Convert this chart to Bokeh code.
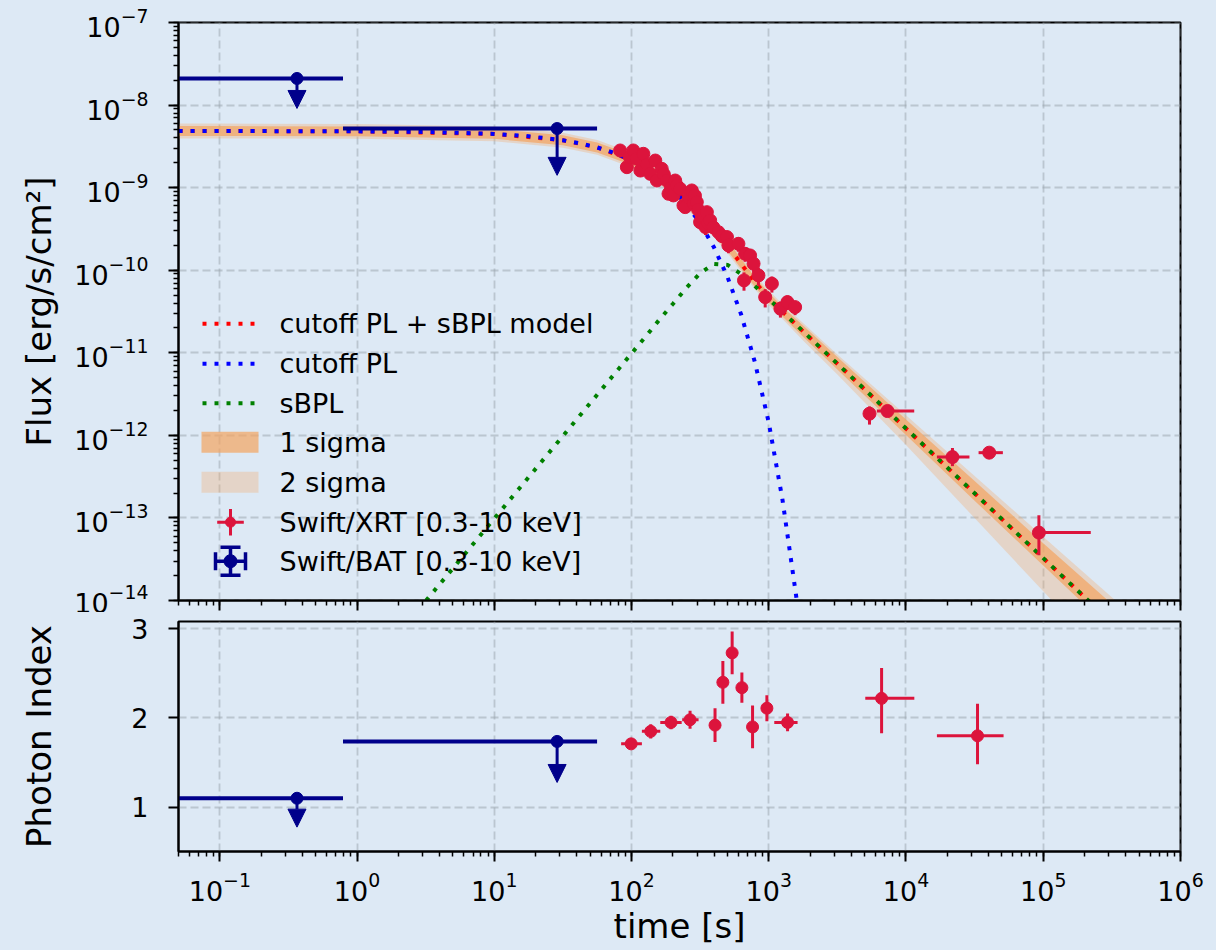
import numpy as np
from jinja2 import Template
from bokeh.plotting import figure
from bokeh.layouts import column
from bokeh.models import (Range1d, LinearScale, LogTicker, FixedTicker,
                          CustomJSTickFormatter, Label, Arrow, NormalHead,
                          ColumnDataSource)
from bokeh.embed import file_html
from bokeh.resources import INLINE
from bokeh.core.properties import value
from bokeh.core.templates import FILE

# ---------------- data ----------------
title_text = "GRB180618A"

# Swift/XRT flux, dense early part
xrt_early_t = [82.6, 92.5, 97.0, 103, 109, 116, 122, 130, 137, 149, 153, 166, 172, 181,
               186, 194, 202, 208, 214, 226, 239, 246, 262, 275, 283, 290, 299, 306,
               316, 325, 334, 346, 354, 362, 374, 395, 430, 455, 496, 508, 601, 660,
               673, 731, 775, 841, 942, 1054, 1216, 1368, 1556]
xrt_early_flux = [2.82e-9, 1.77e-9, 2.35e-9, 2.82e-9, 2.24e-9, 1.61e-9, 2.57e-9, 1.90e-9,
                  1.47e-9, 2.13e-9, 1.22e-9, 1.69e-9, 1.45e-9, 1.22e-9, 8.43e-10, 1.00e-9,
                  8.05e-10, 1.22e-9, 1.06e-9, 9.70e-10, 6.10e-10, 5.81e-10, 7.60e-10,
                  9.25e-10, 6.38e-10, 8.00e-10, 6.67e-10, 5.40e-10, 3.82e-10, 4.40e-10,
                  4.60e-10, 3.33e-10, 5.05e-10, 3.70e-10, 4.01e-10, 3.30e-10, 2.89e-10,
                  2.60e-10, 2.52e-10, 2.00e-10, 2.09e-10, 7.53e-11, 1.58e-10, 1.51e-10,
                  1.20e-10, 8.65e-11, 4.72e-11, 6.87e-11, 3.42e-11, 4.11e-11, 3.57e-11]
xrt_early_ferr = [0.10, 0.12, 0.10, 0.10, 0.10, 0.12, 0.10, 0.10, 0.12, 0.10, 0.12, 0.10,
                  0.12, 0.12, 0.14, 0.12, 0.14, 0.12, 0.12, 0.12, 0.15, 0.15, 0.14, 0.12,
                  0.15, 0.14, 0.15, 0.15, 0.18, 0.16, 0.16, 0.20, 0.16, 0.18, 0.18, 0.18,
                  0.18, 0.18, 0.18, 0.20, 0.20, 0.25, 0.20, 0.20, 0.22, 0.25, 0.25, 0.22,
                  0.22, 0.20, 0.20]
xrt_early_terr = 0.04

# Swift/XRT flux, late points (bins and asymmetric errors)
xrt_late_t = [5420, 7330, 21800, 40400, 93000]
xrt_late_tlo = [5150, 6140, 16800, 33800, 90000]
xrt_late_thi = [5700, 11480, 29000, 50800, 222000]
xrt_late_flux = [1.83e-12, 1.97e-12, 5.46e-13, 6.17e-13, 6.64e-14]
xrt_late_flo = [1.35e-12, 1.84e-12, 4.24e-13, 5.50e-13, 3.52e-14]
xrt_late_fhi = [2.24e-12, 2.11e-12, 7.03e-13, 6.92e-13, 1.08e-13]

# Swift/BAT upper limits
bat_t = [0.365, 28.7]
bat_tlo = [0.001, 0.79]
bat_thi = [0.79, 56.1]
bat_flux = [2.1e-8, 5.2e-9]
bat_flux_tip = [9.1e-9, 1.41e-9]
bat_pi = [1.10, 1.737]
bat_pi_tip = [0.776, 1.277]

# Photon index (XRT)
pi_t = [99.4, 138, 194, 267, 406, 463, 541, 637, 762, 969, 1371, 6640, 33200]
pi_tlo = [84, 119, 162, 234, 395, 452, 530, 622, 745, 945, 1097, 5050, 16800]
pi_thi = [119, 162, 232, 308, 418, 474, 552, 652, 780, 993, 1622, 11500, 51400]
pi_val = [1.71, 1.85, 1.95, 1.98, 1.92, 2.40, 2.73, 2.34, 1.90, 2.11, 1.95, 2.22, 1.80]
pi_err_lo = [0.03, 0.08, 0.075, 0.10, 0.19, 0.24, 0.24, 0.17, 0.24, 0.146, 0.10, 0.39, 0.32]
pi_err_hi = [0.03, 0.08, 0.075, 0.10, 0.19, 0.24, 0.24, 0.17, 0.24, 0.146, 0.10, 0.34, 0.36]

# model curves (log10 flux)
model_t = [0.01, 0.1, 1, 10, 31.6, 56.2, 100, 126, 158, 200, 251, 316, 398, 501, 631,
           794, 1000, 1259, 1778, 3162, 10000, 31623, 100000, 316228, 1000000]
model_total_log = [-8.314, -8.314, -8.318, -8.349, -8.426, -8.513, -8.665, -8.755, -8.866,
                   -9.002, -9.161, -9.335, -9.509, -9.703, -9.926, -10.144, -10.334,
                   -10.502, -10.740, -11.132, -11.917, -12.702, -13.487, -14.272, -15.057]
sig1_lo_dex = [0.06, 0.06, 0.06, 0.06, 0.06, 0.06, 0.06, 0.06, 0.06, 0.06, 0.06, 0.06, 0.06,
               0.06, 0.06, 0.06, 0.06, 0.06, 0.065, 0.07, 0.08, 0.09, 0.09, 0.09, 0.09]
sig1_hi_dex = [0.06, 0.06, 0.06, 0.06, 0.06, 0.06, 0.06, 0.06, 0.06, 0.06, 0.06, 0.06, 0.06,
               0.06, 0.06, 0.06, 0.06, 0.06, 0.07, 0.08, 0.11, 0.15, 0.18, 0.23, 0.28]
sig2_lo_dex = [0.09, 0.09, 0.09, 0.09, 0.09, 0.09, 0.09, 0.09, 0.09, 0.09, 0.09, 0.09, 0.09,
               0.09, 0.09, 0.09, 0.09, 0.09, 0.11, 0.13, 0.20, 0.30, 0.40, 0.50, 0.60]
sig2_hi_dex = [0.09, 0.09, 0.09, 0.09, 0.09, 0.09, 0.09, 0.09, 0.09, 0.09, 0.09, 0.09, 0.09,
               0.09, 0.09, 0.09, 0.09, 0.09, 0.10, 0.11, 0.16, 0.21, 0.26, 0.31, 0.36]

cpl_t = [0.01, 0.1, 1, 3.16, 10, 17.8, 31.6, 42.2, 56.2, 75.0, 100, 126, 158, 200, 251,
         316, 398, 501, 631, 794, 1000, 1259, 1585, 1778]
cpl_log = [-8.314, -8.314, -8.318, -8.325, -8.349, -8.377, -8.426, -8.463, -8.513, -8.579,
           -8.667, -8.759, -8.874, -9.019, -9.201, -9.431, -9.720, -10.084, -10.542,
           -11.119, -11.845, -12.78, -13.95, -14.6]

sbpl_t = [1, 3.16, 10, 31.6, 100, 126, 158, 200, 251, 316, 398, 501, 631, 794, 1000, 1778,
          3162, 10000, 31623, 100000, 316228, 1000000]
sbpl_log = [-15.008, -14.008, -13.008, -12.008, -11.008, -10.808, -10.608, -10.409, -10.214,
            -10.037, -9.924, -9.936, -10.047, -10.193, -10.348, -10.740, -11.132, -11.917,
            -12.702, -13.487, -14.272, -15.057]

legend_labels = ["cutoff PL + sBPL model", "cutoff PL", "sBPL", "1 sigma", "2 sigma",
                 "Swift/XRT [0.3-10 keV]", "Swift/BAT [0.3-10 keV]"]

# ---------------- styling ----------------
BG = "#dde9f5"
FONT = "DejaVu Sans"
XRT = "#dc143c"
BAT = "#00008b"
BAND = "#f4a460"
RED, BLUE, GREEN = "#ff0000", "#0000ff", "#008000"


def style(p):
    p.background_fill_color = BG
    p.border_fill_color = BG
    p.outline_line_color = "black"
    p.outline_line_width = 2
    for ax in p.axis:
        ax.axis_line_width = 2
        ax.major_tick_line_width = 2
        ax.minor_tick_line_width = 1.5
        ax.major_tick_out = 10
        ax.major_tick_in = 0
        ax.minor_tick_out = 5
        ax.minor_tick_in = 0
        ax.major_label_text_font = FONT
        ax.major_label_text_font_size = "27px"
        ax.major_label_text_color = "black"
        ax.axis_label_text_font = FONT
        ax.axis_label_text_font_size = "34px"
        ax.axis_label_text_font_style = "normal"
        ax.axis_label_text_color = "black"
    for g in p.grid:
        g.grid_line_color = "#9aa3ab"
        g.grid_line_alpha = 0.5
        g.grid_line_dash = "8 4"
        g.grid_line_width = 1.8


xr = Range1d(0.05, 1.0005e6)

p1 = figure(x_axis_type="log", y_axis_type="log", x_range=xr,
            y_range=Range1d(9.995e-15, 1.0005e-7),
            frame_width=1002, frame_height=578,
            min_border_left=178, min_border_right=36, min_border_top=22, min_border_bottom=12,
            output_backend="svg", toolbar_location=None)
style(p1)
p1.xaxis.ticker = LogTicker(num_minor_ticks=10)
p1.yaxis.ticker = LogTicker(num_minor_ticks=10)
p1.xaxis.formatter = CustomJSTickFormatter(code="return ''")
p1.xaxis.major_label_text_font_size = "1px"
p1.xaxis.major_label_standoff = 0
p1.yaxis.axis_label = "Flux [erg/s/cm²]"
p1.yaxis.major_label_standoff = 20
p1.yaxis.axis_label_standoff = 12

# bands
mt = np.array(model_t)
mc = np.array(model_total_log)
p1.varea(x=mt, y1=10 ** (mc - np.array(sig2_lo_dex)), y2=10 ** (mc + np.array(sig2_hi_dex)),
         fill_color=BAND, fill_alpha=0.3)
p1.varea(x=mt, y1=10 ** (mc - np.array(sig1_lo_dex)), y2=10 ** (mc + np.array(sig1_hi_dex)),
         fill_color=BAND, fill_alpha=0.7)

# model lines
p1.line(mt, 10 ** mc, line_color=RED, line_width=4, line_dash="4 8")
p1.line(cpl_t, 10 ** np.array(cpl_log), line_color=BLUE, line_width=4, line_dash="4 8")
p1.line(sbpl_t, 10 ** np.array(sbpl_log), line_color=GREEN, line_width=4, line_dash="4 8")

# XRT flux points
et = np.array(xrt_early_t)
ef = np.array(xrt_early_flux)
efe = np.array(xrt_early_ferr)
p1.segment(x0=et * (1 - xrt_early_terr), y0=ef, x1=et * (1 + xrt_early_terr), y1=ef,
           line_color=XRT, line_width=3)
p1.segment(x0=et, y0=ef * (1 - efe), x1=et, y1=ef * (1 + efe), line_color=XRT, line_width=3)
p1.scatter(et, ef, size=13, color=XRT)
p1.segment(x0=xrt_late_tlo, y0=xrt_late_flux, x1=xrt_late_thi, y1=xrt_late_flux,
           line_color=XRT, line_width=3)
p1.segment(x0=xrt_late_t, y0=xrt_late_flo, x1=xrt_late_t, y1=xrt_late_fhi,
           line_color=XRT, line_width=3)
p1.scatter(xrt_late_t, xrt_late_flux, size=13, color=XRT)

# BAT upper limits
p1.segment(x0=bat_tlo, y0=bat_flux, x1=bat_thi, y1=bat_flux, line_color=BAT, line_width=4)
p1.scatter(bat_t, bat_flux, size=12, color=BAT)
p1.add_layout(Arrow(end=NormalHead(size=18, fill_color=BAT, line_color=BAT, line_width=1),
                    x_start="t", y_start="y", x_end="t", y_end="tip",
                    source=ColumnDataSource(dict(t=bat_t, y=bat_flux, tip=bat_flux_tip)),
                    line_color=BAT, line_width=3))

# manual legend drawn in frame pixel coordinates
p1.extra_x_ranges = {"lpx": Range1d(0, 1002)}
p1.extra_y_ranges = {"lpy": Range1d(0, 578)}
p1.extra_x_scales = {"lpx": LinearScale()}
p1.extra_y_scales = {"lpy": LinearScale()}
kw = dict(x_range_name="lpx", y_range_name="lpy")
ly = [276.7, 236.7, 197.3, 158.3, 118.3, 78.3, 39.3]
for yy, col in zip(ly[:3], [RED, BLUE, GREEN]):
    p1.segment(x0=[24], y0=[yy], x1=[80], y1=[yy], line_color=col, line_width=4,
               line_dash="4 8", **kw)
p1.quad(left=[23], right=[80], bottom=[ly[3] - 10.5], top=[ly[3] + 10.5],
        fill_color=BAND, fill_alpha=0.7, line_color=None, **kw)
p1.quad(left=[23], right=[80], bottom=[ly[4] - 10.5], top=[ly[4] + 10.5],
        fill_color=BAND, fill_alpha=0.3, line_color=None, **kw)
yx = ly[5]
p1.segment(x0=[38.7, 52], y0=[yx, yx - 13.3], x1=[65.3, 52], y1=[yx, yx + 13.3],
           line_color=XRT, line_width=3, **kw)
p1.scatter(x=[52], y=[yx], size=10, color=XRT, **kw)
yb = ly[6]
p1.segment(x0=[37, 52, 37, 67, 42, 42], y0=[yb, yb - 14, yb - 9, yb - 9, yb + 14, yb - 14],
           x1=[67, 52, 37, 67, 62, 62], y1=[yb, yb + 14, yb + 9, yb + 9, yb + 14, yb - 14],
           line_color=BAT, line_width=3.5, **kw)
p1.scatter(x=[52], y=[yb], size=13, color=BAT, **kw)
p1.text(x=[101] * len(legend_labels), y=ly, text=legend_labels, text_font=value(FONT),
        text_font_size="27px", text_baseline="middle", text_align="left",
        text_color="black", **kw)

# title (cut off at the top as in the reference)
p1.add_layout(Label(x=450, y=595, x_units="screen", y_units="screen", text=title_text,
                    text_align="center", text_baseline="alphabetic",
                    text_font="DejaVu Sans Mono", text_font_size="28px",
                    text_color="black"))

# ---------------- bottom panel ----------------
p2 = figure(x_axis_type="log", x_range=xr, y_range=Range1d(0.503, 3.082),
            frame_width=1002, frame_height=230,
            min_border_left=178, min_border_right=36, min_border_top=9, min_border_bottom=99,
            output_backend="svg", toolbar_location=None)
style(p2)
p2.xaxis.ticker = LogTicker(num_minor_ticks=10)
p2.yaxis.ticker = FixedTicker(ticks=[1, 2, 3], minor_ticks=[])
p2.xaxis.axis_label = "time [s]"
p2.xaxis.major_label_standoff = 10
p2.xaxis.axis_label_standoff = 2
p2.yaxis.axis_label = "Photon Index"
p2.yaxis.major_label_standoff = 20
p2.yaxis.axis_label_standoff = 69

pv = np.array(pi_val)
p2.segment(x0=pi_tlo, y0=pv, x1=pi_thi, y1=pv, line_color=XRT, line_width=3)
p2.segment(x0=pi_t, y0=pv - np.array(pi_err_lo), x1=pi_t, y1=pv + np.array(pi_err_hi),
           line_color=XRT, line_width=3)
p2.scatter(pi_t, pv, size=12, color=XRT)

p2.segment(x0=bat_tlo, y0=bat_pi, x1=bat_thi, y1=bat_pi, line_color=BAT, line_width=4)
p2.scatter(bat_t, bat_pi, size=12, color=BAT)
p2.add_layout(Arrow(end=NormalHead(size=18, fill_color=BAT, line_color=BAT, line_width=1),
                    x_start="t", y_start="y", x_end="t", y_end="tip",
                    source=ColumnDataSource(dict(t=bat_t, y=bat_pi, tip=bat_pi_tip)),
                    line_color=BAT, line_width=3))

layout = column(p1, p2, spacing=0)

page_template = Template("""{% extends base %}
{% block preamble %}<style>body { background-color: #dde9f5; }</style>{% endblock %}
""")

html = file_html(layout, INLINE, title=title_text, template=page_template,
                 template_variables={"base": FILE})
open("out.html", "w").write(html)
